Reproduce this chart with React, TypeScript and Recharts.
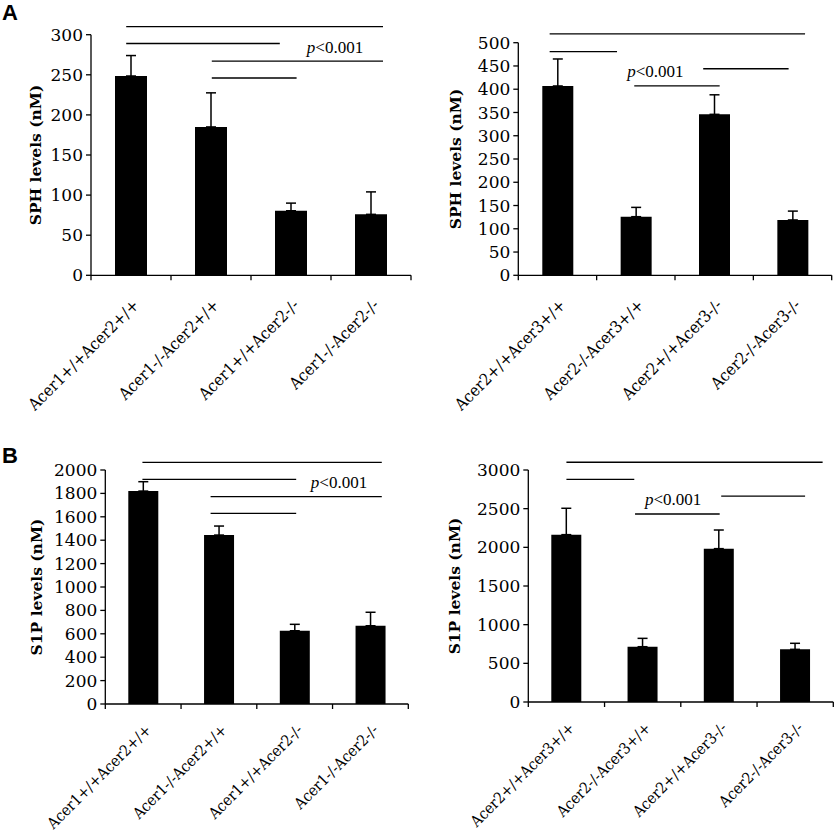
import {
  BarChart,
  Bar,
  XAxis,
  YAxis,
  ErrorBar,
  ReferenceLine,
  ReferenceDot,
} from "recharts";

// genotype groups on the x axis
const acer12Groups = [
  "Acer1+/+Acer2+/+",
  "Acer1-/-Acer2+/+",
  "Acer1+/+Acer2-/-",
  "Acer1-/-Acer2-/-",
];
const acer23Groups = [
  "Acer2+/+Acer3+/+",
  "Acer2-/-Acer3+/+",
  "Acer2+/+Acer3-/-",
  "Acer2-/-Acer3-/-",
];

// mean levels (nM) and upper error
const sphAcer12 = [248.5, 185, 80.5, 76];
const sphAcer12Err = [25.5, 42.5, 9.5, 28];
const sphAcer23 = [407, 126, 346, 119];
const sphAcer23Err = [58, 20, 42, 19];
const s1pAcer12 = [1820, 1444, 626, 669];
const s1pAcer12Err = [80, 77, 55, 115];
const s1pAcer23 = [2164, 715, 1983, 681];
const s1pAcer23Err = [341, 108, 241, 78];

// y ticks
const sphAcer12Ticks = [0, 50, 100, 150, 200, 250, 300];
const sphAcer23Ticks = [0, 50, 100, 150, 200, 250, 300, 350, 400, 450, 500];
const s1pAcer12Ticks = [0, 200, 400, 600, 800, 1000, 1200, 1400, 1600, 1800, 2000];
const s1pAcer23Ticks = [0, 500, 1000, 1500, 2000, 2500, 3000];

// significance lines (group index from/to, level in nM)
const sphAcer12Sig = [
  { from: -0.06, to: 3.15, level: 310 },
  { from: -0.06, to: 1.86, level: 289 },
  { from: 1.01, to: 3.15, level: 267 },
  { from: 1.01, to: 2.07, level: 246 },
];
const sphAcer23Sig = [
  { from: -0.1, to: 3.16, level: 519 },
  { from: -0.1, to: 0.76, level: 481 },
  { from: 1.86, to: 2.95, level: 444 },
  { from: 0.98, to: 2.07, level: 407 },
];
const s1pAcer12Sig = [
  { from: -0.01, to: 3.15, level: 2066 },
  { from: -0.01, to: 2.02, level: 1920 },
  { from: 0.89, to: 3.15, level: 1772 },
  { from: 0.89, to: 2.02, level: 1630 },
];
const s1pAcer23Sig = [
  { from: 0.0, to: 3.36, level: 3100 },
  { from: 0.0, to: 0.89, level: 2880 },
  { from: 2.03, to: 3.13, level: 2661 },
  { from: 0.9, to: 2.01, level: 2431 },
];

// where "p<0.001" sits
const sphAcer12P = { at: 2.55, level: 285 };
const sphAcer23P = { at: 1.25, level: 440 };
const s1pAcer12P = { at: 2.585, level: 1900 };
const s1pAcer23P = { at: 1.4, level: 2621 };

const SERIF = "DejaVu Serif";

interface Sig {
  from: number;
  to: number;
  level: number;
}

interface PanelProps {
  left: number;
  top: number;
  width: number;
  height: number;
  margin: { top: number; right: number; bottom: number; left: number };
  groups: string[];
  values: number[];
  errors: number[];
  ticks: number[];
  sig: Sig[];
  pNote: { at: number; level: number };
  yLabel: string;
  labelDx: number;
  barSize: number;
  nameSize: number;
  nameDrop: number;
}

function GroupTick(props: any) {
  const { x, y, payload, names, size, drop } = props;
  const v = payload.value;
  if (!Number.isInteger(v)) {
    return <line x1={x} x2={x} y1={y} y2={y + 5} stroke="#000" strokeWidth={1.3} />;
  }
  const ax = x + 9;
  const ay = y + drop;
  return (
    <text
      x={ax}
      y={ay}
      transform={`rotate(-45 ${ax} ${ay})`}
      textAnchor="end"
      fontFamily="DejaVu Serif Condensed, DejaVu Serif"
      fontSize={size}
      fill="#000"
    >
      {names[v]}
    </text>
  );
}

function PLabel(props: any) {
  const { viewBox } = props;
  const cx = viewBox.x + viewBox.width / 2;
  const cy = viewBox.y + viewBox.height / 2;
  return (
    <text
      x={cx}
      y={cy}
      textAnchor="middle"
      dominantBaseline="central"
      fontFamily="Liberation Serif"
      fontSize={17}
      fill="#000"
    >
      <tspan fontStyle="italic">p</tspan>
      <tspan>{"<0.001"}</tspan>
    </text>
  );
}

function Panel(p: PanelProps) {
  const rows = p.groups.map((name, i) => ({
    idx: i,
    name,
    value: p.values[i],
    err: [0, p.errors[i]],
  }));
  const max = p.ticks[p.ticks.length - 1];
  return (
    <div style={{ position: "absolute", left: p.left, top: p.top }}>
      <BarChart width={p.width} height={p.height} data={rows} margin={p.margin}>
        <XAxis
          dataKey="idx"
          type="number"
          domain={[-0.5, 3.5]}
          ticks={[-0.5, 0, 0.5, 1, 1.5, 2, 2.5, 3, 3.5]}
          interval={0}
          tickLine={false}
          tickSize={0}
          tickMargin={0}
          axisLine={{ stroke: "#000", strokeWidth: 1.3 }}
          tick={(t: any) => (
            <GroupTick {...t} names={p.groups} size={p.nameSize} drop={p.nameDrop} />
          )}
        />
        <YAxis
          type="number"
          domain={[0, max]}
          ticks={p.ticks}
          interval={0}
          width={60}
          tickSize={5}
          tickMargin={3}
          axisLine={{ stroke: "#000", strokeWidth: 1.3 }}
          tickLine={{ stroke: "#000", strokeWidth: 1.3 }}
          tick={{ fill: "#000", fontFamily: SERIF, fontSize: 17 }}
          label={{
            value: p.yLabel,
            angle: -90,
            position: "insideLeft",
            dx: p.labelDx,
            style: {
              textAnchor: "middle",
              fontFamily: SERIF,
              fontWeight: "bold",
              fontSize: 15.5,
              fill: "#000",
            },
          }}
        />
        <Bar dataKey="value" fill="#000" barSize={p.barSize} isAnimationActive={false}>
          <ErrorBar
            dataKey="err"
            direction="y"
            width={5}
            stroke="#000"
            strokeWidth={1.5}
            isAnimationActive={false}
          />
        </Bar>
        {p.sig.map((s, i) => (
          <ReferenceLine
            key={i}
            segment={[
              { x: s.from, y: s.level },
              { x: s.to, y: s.level },
            ]}
            stroke="#000"
            strokeWidth={1.3}
            ifOverflow="visible"
          />
        ))}
        <ReferenceDot
          x={p.pNote.at}
          y={p.pNote.level}
          r={0}
          fill="none"
          stroke="none"
          ifOverflow="visible"
          label={(lp: any) => <PLabel {...lp} />}
        />
      </BarChart>
    </div>
  );
}

export default function App() {
  return (
    <div
      style={{
        position: "absolute",
        left: 0,
        top: 0,
        width: 837,
        height: 837,
        background: "#fff",
        overflow: "hidden",
      }}
    >
      <div
        style={{
          position: "absolute",
          left: 2,
          top: 0,
          fontFamily: "Liberation Sans",
          fontWeight: "bold",
          fontSize: 22,
        }}
      >
        A
      </div>
      <div
        style={{
          position: "absolute",
          left: 2,
          top: 443,
          fontFamily: "Liberation Sans",
          fontWeight: "bold",
          fontSize: 22,
        }}
      >
        B
      </div>
      <Panel
        left={0}
        top={0}
        width={420}
        height={440}
        margin={{ top: 34.7, right: 9, bottom: 134.7, left: 31 }}
        groups={acer12Groups}
        values={sphAcer12}
        errors={sphAcer12Err}
        ticks={sphAcer12Ticks}
        sig={sphAcer12Sig}
        pNote={sphAcer12P}
        yLabel="SPH levels (nM)"
        labelDx={-0.5}
        barSize={32}
        nameSize={16.5}
        nameDrop={31}
      />
      <Panel
        left={420}
        top={0}
        width={417}
        height={440}
        margin={{ top: 42.7, right: 5.3, bottom: 134.7, left: 38.3 }}
        groups={acer23Groups}
        values={sphAcer23}
        errors={sphAcer23Err}
        ticks={sphAcer23Ticks}
        sig={sphAcer23Sig}
        pNote={sphAcer23P}
        yLabel="SPH levels (nM)"
        labelDx={-7.8}
        barSize={31}
        nameSize={16.5}
        nameDrop={31}
      />
      <Panel
        left={0}
        top={440}
        width={420}
        height={397}
        margin={{ top: 30, right: 11.7, bottom: 103, left: 45.3 }}
        groups={acer12Groups}
        values={s1pAcer12}
        errors={s1pAcer12Err}
        ticks={s1pAcer12Ticks}
        sig={s1pAcer12Sig}
        pNote={s1pAcer12P}
        yLabel="S1P levels (nM)"
        labelDx={-14.3}
        barSize={30}
        nameSize={15.5}
        nameDrop={27}
      />
      <Panel
        left={420}
        top={440}
        width={417}
        height={397}
        margin={{ top: 30, right: 3.7, bottom: 105, left: 48.3 }}
        groups={acer23Groups}
        values={s1pAcer23}
        errors={s1pAcer23Err}
        ticks={s1pAcer23Ticks}
        sig={s1pAcer23Sig}
        pNote={s1pAcer23P}
        yLabel="S1P levels (nM)"
        labelDx={-18.6}
        barSize={30}
        nameSize={15.5}
        nameDrop={27}
      />
    </div>
  );
}
